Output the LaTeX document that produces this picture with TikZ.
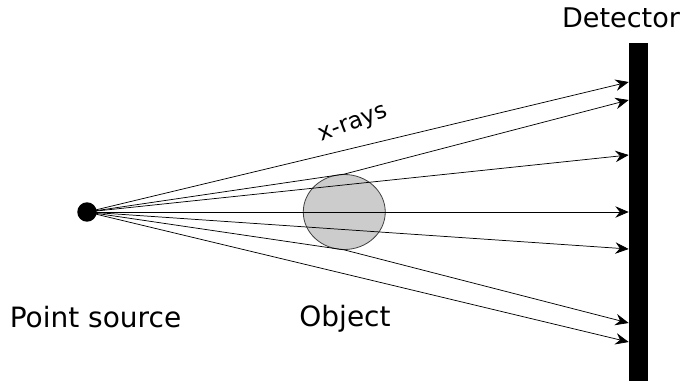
\documentclass[tikz,border=0pt]{standalone}
\usepackage{fontspec}
\setmainfont{DejaVu Sans}
\usetikzlibrary{positioning, arrows.meta, shapes.geometric}
\tikzset{
  % Point projection
  srcdot/.style   = { circle, fill=black, minimum size=14.6pt, inner sep=0 },
  objblob/.style  = { draw=black!75, ellipse, fill=black!20, line width=0.6pt,
                       minimum width=61.5pt, minimum height=56.25pt, inner sep=0 },
  detbar/.style   = { fill=black, minimum width=14.6pt, minimum height=253.5pt, inner sep=0 },
  xray/.style     = { line width=0.55pt, black, -{Stealth[length=10pt, width=8.6pt, inset=3.4pt]} },
  partlabel/.style= { font=\fontsize{21}{25}\selectfont, inner sep=0 }
}
\begin{document}
\begin{tikzpicture}[x=0.75pt, y=0.75pt]

  \useasboundingbox (0,0) rectangle (684,-381);

  \node[srcdot] (source) at (87,-212) {};
  \node[objblob, right=154.4pt of source] (object) {};
  \node[detbar, right=182.25pt of object] (detector) {};

  \node[partlabel] (sourcelabel) at (95.5,-317) {Point source};
  \node[partlabel] (objectlabel) at (345,-319) {Object};
  \node[partlabel, font=\fontsize{20.3}{24}\selectfont] (detectorlabel) at (621,-18) {Detector};
  \node[partlabel, font=\fontsize{17.4}{20}\selectfont, rotate=21] (raylabel) at (353.5,-125) {x-rays};

  % rays end on the front face of the bar
  \foreach \i/\off in {1/97.5, 2/84, 3/42.75, 4/0, 5/-27.75, 6/-83.25, 7/-97.5} {
    \coordinate (hit\i) at ([yshift=\off pt]detector.west);
  }
  \foreach \i in {1,3,4,5,7} {
    \draw[xray] (source.center) -- (hit\i);
  }
  % these two bend on the rim of the object
  \draw[xray] (source.center) -- (object.north) -- (hit2);
  \draw[xray] (source.center) -- (object.south) -- (hit6);

\end{tikzpicture}
\end{document}
